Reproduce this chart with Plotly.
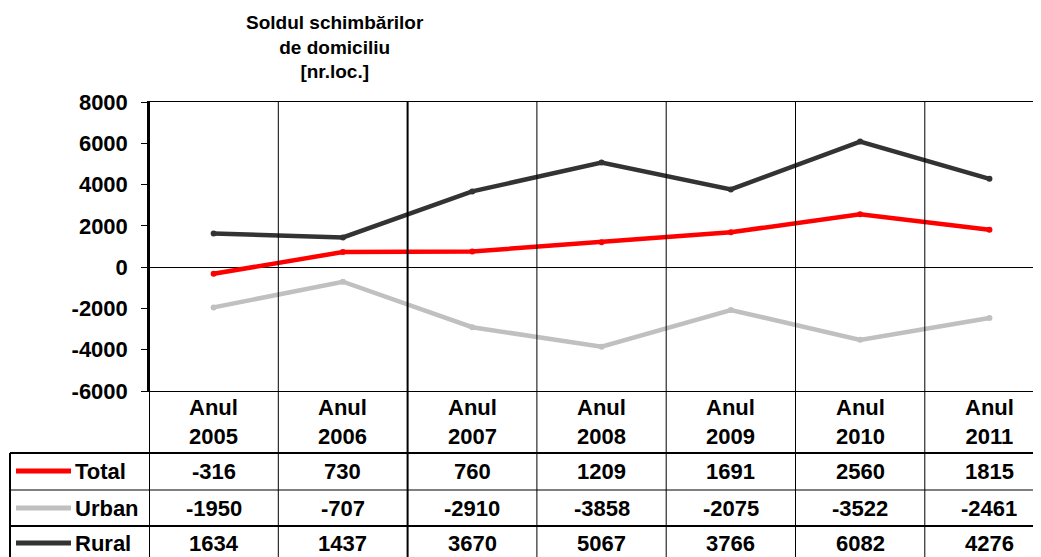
import plotly.graph_objects as go

years = ["2005", "2006", "2007", "2008", "2009", "2010", "2011"]
categories = ["Anul " + y for y in years]
total = [-316, 730, 760, 1209, 1691, 2560, 1815]
urban = [-1950, -707, -2910, -3858, -2075, -3522, -2461]
rural = [1634, 1437, 3670, 5067, 3766, 6082, 4276]
series_names = ["Total", "Urban", "Rural"]
series_values = [total, urban, rural]
series_colors = ["#FF0000", "#C0C0C0", "#333333"]
y_ticks = [8000, 6000, 4000, 2000, 0, -2000, -4000, -6000]

# page body has an 8px margin; work in reference-pixel coordinates and offset
OFF = 8
W, H = 1041 - OFF, 557 - OFF
L, T, B = 149 - OFF, 102 - OFF, 391 - OFF
PW, PH = W - L, B - T
COLW = 129.3

def py(p):
    return (B - (p - OFF)) / PH

def px(p):
    return ((p - OFF) - L) / PW

FONT = "Liberation Sans, Arial, sans-serif"

fig = go.Figure()
x_idx = list(range(len(categories)))
for name, vals, col in zip(series_names, series_values, series_colors):
    fig.add_trace(go.Scatter(
        x=x_idx, y=vals, mode="lines+markers", name=name,
        line=dict(color=col, width=4.5),
        marker=dict(color=col, size=6),
        showlegend=False, cliponaxis=False,
    ))

shapes = []
for i in range(len(categories)):
    xv = i - 0.5
    shapes.append(dict(type="line", xref="x", yref="paper", x0=xv, x1=xv,
                       y0=py(560), y1=1, line=dict(color="black", width=2 if i in (0, 2) else 1)))
for yy, w in [(453, 2), (490, 1), (526, 2)]:
    shapes.append(dict(type="line", xref="paper", yref="paper", x0=px(10), x1=1.01,
                       y0=py(yy), y1=py(yy), line=dict(color="black", width=w)))
shapes.append(dict(type="line", xref="paper", yref="paper", x0=px(10), x1=px(10),
                   y0=py(453), y1=py(560), line=dict(color="black", width=2)))

annotations = []
for i, y in enumerate(years):
    annotations.append(dict(x=i, y=py(422), xref="x", yref="paper", text="Anul<br>" + y,
                            showarrow=False, font=dict(family=FONT, size=22, color="black", weight="bold"),
                            align="center", yanchor="middle"))
row_centers = [471, 508, 543]
for r, (name, vals, col) in enumerate(zip(series_names, series_values, series_colors)):
    yc = py(row_centers[r])
    shapes.append(dict(type="line", xref="paper", yref="paper", x0=px(16), x1=px(71),
                       y0=yc, y1=yc, line=dict(color=col, width=5)))
    annotations.append(dict(x=px(73), y=yc, xref="paper", yref="paper", text=name,
                            showarrow=False, xanchor="left", yanchor="middle",
                            font=dict(family=FONT, size=22, color="black", weight="bold")))
    for i, v in enumerate(vals):
        annotations.append(dict(x=i, y=yc, xref="x", yref="paper", text=str(v),
                                showarrow=False, xanchor="center", yanchor="middle",
                                font=dict(family=FONT, size=22, color="black", weight="bold")))

annotations.append(dict(x=px(335), y=py(47), xref="paper", yref="paper",
                        text="Soldul schimbărilor<br>de domiciliu<br>[nr.loc.]",
                        showarrow=False, xanchor="center", yanchor="middle", align="center",
                        font=dict(family=FONT, size=19, color="black", weight="bold")))

fig.update_layout(
    width=W, height=H,
    margin=dict(l=L, r=0, t=T, b=H - B, pad=0),
    paper_bgcolor="white", plot_bgcolor="white",
    shapes=shapes, annotations=annotations,
    xaxis=dict(range=[-0.5, -0.5 + PW / COLW], showticklabels=False, showgrid=False,
               zeroline=False, showline=True, mirror=True, linecolor="black", linewidth=1,
               ticks=""),
    yaxis=dict(range=[-6000, 8000], tickvals=y_ticks, ticktext=[str(v) for v in y_ticks],
               showgrid=False, zeroline=True, zerolinecolor="black", zerolinewidth=1,
               showline=True, linecolor="black", linewidth=1.5, ticks="outside", ticklen=6,
               tickcolor="black", ticklabelstandoff=9,
               tickfont=dict(family=FONT, size=22, color="black", weight="bold")),
)

fig.write_html("out.html")
